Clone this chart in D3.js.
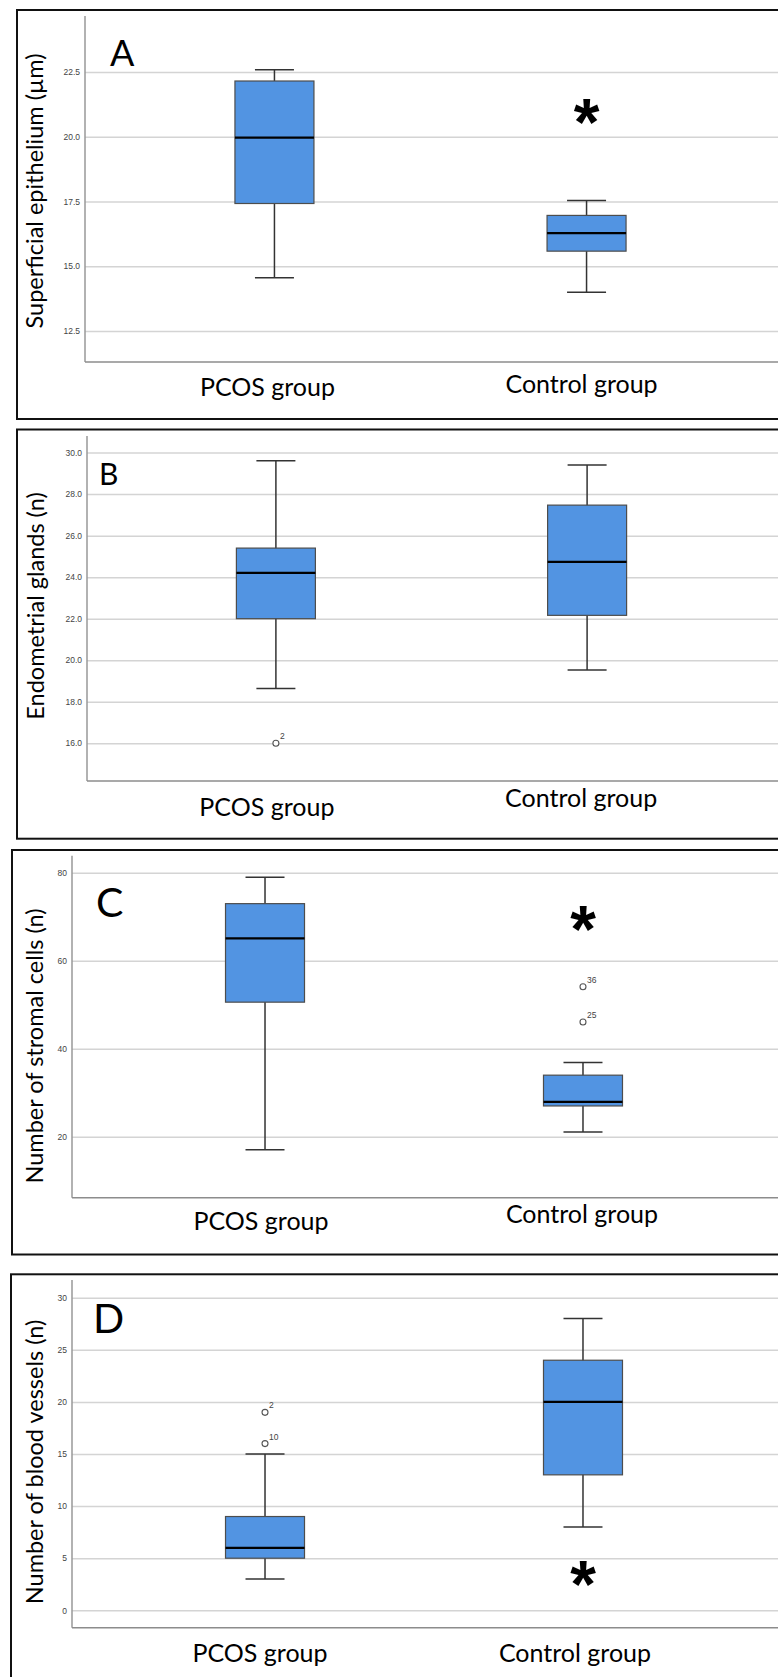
<!DOCTYPE html>
<html>
<head>
<meta charset="utf-8">
<script src="https://cdn.jsdelivr.net/npm/d3@7"></script>
<style>
  body { margin: 0; background: #fff; }
  svg { display: block; }
</style>
</head>
<body>
<div id="chart"></div>
<script>
/* global d3:false */

// ---- data ----
var groups = ["PCOS group", "Control group"];
var panelLetters = ["A", "B", "C", "D"];
var yTitles = [
  "Superficial epithelium (µm)",
  "Endometrial glands (n)",
  "Number of stromal cells (n)",
  "Number of blood vessels (n)"
];

// [lower whisker, Q1, median, Q3, upper whisker] per group
var epitheliumBoxes = [[14.55, 17.42, 19.96, 22.15, 22.58], [13.99, 15.58, 16.28, 16.96, 17.54]];
var glandBoxes      = [[18.64, 22.0, 24.21, 25.40, 29.61], [19.53, 22.16, 24.74, 27.47, 29.40]];
var stromalBoxes    = [[17.05, 50.6, 65.1, 73.0, 79.0], [21.06, 27.0, 27.95, 34.0, 36.9]];
var vesselBoxes     = [[3, 5, 6, 9, 15], [8, 13, 20, 24, 28]];

var epitheliumOutliers = [];
var glandOutliers   = [{ group: "PCOS group", value: 16.0, label: "2" }];
var stromalOutliers = [{ group: "Control group", value: 54.1, label: "36" },
                       { group: "Control group", value: 46.1, label: "25" }];
var vesselOutliers  = [{ group: "PCOS group", value: 19.0, label: "2" },
                       { group: "PCOS group", value: 16.0, label: "10" }];

var epitheliumTicks = [12.5, 15.0, 17.5, 20.0, 22.5];
var glandTicks   = [16, 18, 20, 22, 24, 26, 28, 30];
var stromalTicks = [20, 40, 60, 80];
var vesselTicks  = [0, 5, 10, 15, 20, 25, 30];

var yDomains = [[11.3, 24.66], [14.18, 30.8], [6.14, 83.9], [-1.67, 31.7]];
var tickFormats = [".1f", ".1f", "d", "d"];

// significance mark (*) placed on the control group, in data units
var starValues = [21.0, null, 69.7, 3.6];

// ---- layout (pixels) ----
var W = 778, H = 1677;
var layout = [
  { fx: 17, fy: 10, fb: 419, axisX: 85, top: 16, bottom: 362,
    titleX: 43, titleY: 191, letterX: 110, letterY: 66, letterSize: 36,
    labelDx: [-7, -5], labelY: [396, 393] },
  { fx: 17, fy: 429.5, fb: 838.7, axisX: 87, top: 436, bottom: 781,
    titleX: 44, titleY: 606, letterX: 99, letterY: 485, letterSize: 30,
    labelDx: [-9, -6], labelY: [816, 807] },
  { fx: 12, fy: 850, fb: 1254.5, axisX: 72, top: 855.7, bottom: 1197.7,
    titleX: 43, titleY: 1046, letterX: 96, letterY: 917, letterSize: 41,
    labelDx: [-4, -1], labelY: [1230, 1223] },
  { fx: 11, fy: 1274.3, fb: 1700, axisX: 72, top: 1280, bottom: 1627.7,
    titleX: 43, titleY: 1462, letterX: 93, letterY: 1333, letterSize: 41,
    labelDx: [-5, -8], labelY: [1662, 1662] }
];

var boxes = [epitheliumBoxes, glandBoxes, stromalBoxes, vesselBoxes];
var outliers = [epitheliumOutliers, glandOutliers, stromalOutliers, vesselOutliers];
var ticks = [epitheliumTicks, glandTicks, stromalTicks, vesselTicks];

var boxW = 79, capW = 39;
var boxFill = "#5294e2";

var svg = d3.select("#chart").append("svg")
  .attr("width", W)
  .attr("height", H);

svg.append("rect").attr("width", W).attr("height", H).attr("fill", "#fff");

layout.forEach(function(L, i) {
  var g = svg.append("g").attr("class", "panel-" + panelLetters[i]);

  // frame
  g.append("rect")
    .attr("x", L.fx).attr("y", L.fy)
    .attr("width", W + 20 - L.fx).attr("height", L.fb - L.fy)
    .attr("fill", "none")
    .attr("stroke", "#111")
    .attr("stroke-width", 2);

  var x = d3.scalePoint()
    .domain(groups)
    .range([L.axisX, W - 2])
    .padding(0.607);

  var y = d3.scaleLinear()
    .domain(yDomains[i])
    .range([L.bottom, L.top]);

  // gridlines + tick labels via axis
  var axis = d3.axisLeft(y)
    .tickValues(ticks[i])
    .tickFormat(d3.format(tickFormats[i]))
    .tickSize(-(W - L.axisX))
    .tickPadding(5);

  var ag = g.append("g")
    .attr("transform", "translate(" + L.axisX + ",0)")
    .call(axis);
  ag.select(".domain").remove();
  ag.selectAll(".tick line")
    .attr("stroke", "#d4d4d4")
    .attr("stroke-width", 1.5);
  ag.selectAll(".tick text")
    .attr("fill", "#444")
    .attr("font-family", "Liberation Sans, Arial, sans-serif")
    .attr("font-size", 8.5);

  // axis lines
  g.append("line")
    .attr("x1", L.axisX).attr("x2", L.axisX)
    .attr("y1", L.top).attr("y2", L.bottom)
    .attr("stroke", "#999").attr("stroke-width", 1.5);
  g.append("line")
    .attr("x1", L.axisX).attr("x2", W)
    .attr("y1", L.bottom).attr("y2", L.bottom)
    .attr("stroke", "#8c8c8c").attr("stroke-width", 1.5);

  // boxes
  var bg = g.selectAll(".box")
    .data(boxes[i])
    .enter().append("g")
    .attr("class", "box")
    .attr("transform", function(d, k) { return "translate(" + x(groups[k]) + ",0)"; });

  bg.append("line")
    .attr("x1", 0).attr("x2", 0)
    .attr("y1", function(d) { return y(d[0]); })
    .attr("y2", function(d) { return y(d[4]); })
    .attr("stroke", "#333").attr("stroke-width", 1.5);
  bg.selectAll(".cap")
    .data(function(d) { return [d[0], d[4]]; })
    .enter().append("line")
    .attr("class", "cap")
    .attr("x1", -capW / 2).attr("x2", capW / 2)
    .attr("y1", function(v) { return y(v); })
    .attr("y2", function(v) { return y(v); })
    .attr("stroke", "#333").attr("stroke-width", 1.5);
  bg.append("rect")
    .attr("x", -boxW / 2)
    .attr("width", boxW)
    .attr("y", function(d) { return y(d[3]); })
    .attr("height", function(d) { return y(d[1]) - y(d[3]); })
    .attr("fill", boxFill)
    .attr("stroke", "#4d4d4d").attr("stroke-width", 1.2);
  bg.append("line")
    .attr("x1", -boxW / 2).attr("x2", boxW / 2)
    .attr("y1", function(d) { return y(d[2]); })
    .attr("y2", function(d) { return y(d[2]); })
    .attr("stroke", "#000").attr("stroke-width", 2.2);

  // outliers
  var og = g.selectAll(".outlier")
    .data(outliers[i])
    .enter().append("g")
    .attr("class", "outlier")
    .attr("transform", function(d) { return "translate(" + x(d.group) + "," + y(d.value) + ")"; });
  og.append("circle")
    .attr("r", 3)
    .attr("fill", "#fff")
    .attr("stroke", "#555").attr("stroke-width", 1.1);
  og.append("text")
    .attr("x", 4).attr("y", -4)
    .attr("fill", "#444")
    .attr("font-family", "Liberation Sans, Arial, sans-serif")
    .attr("font-size", 8.5)
    .text(function(d) { return d.label; });

  // significance star
  if (starValues[i] !== null) {
    var starSize = 66;
    g.append("text")
      .attr("x", x("Control group"))
      .attr("y", y(starValues[i]) + 0.52 * starSize)
      .attr("text-anchor", "middle")
      .attr("font-family", "Liberation Sans, Arial, sans-serif")
      .attr("font-weight", "bold")
      .attr("font-size", starSize)
      .text("*");
  }

  // panel letter
  g.append("text")
    .attr("x", L.letterX).attr("y", L.letterY)
    .attr("font-family", "Lato, sans-serif")
    .attr("font-size", L.letterSize)
    .attr("fill", "#000")
    .text(panelLetters[i]);

  // y title
  g.append("text")
    .attr("transform", "translate(" + L.titleX + "," + L.titleY + ") rotate(-90)")
    .attr("text-anchor", "middle")
    .attr("font-family", "Lato, sans-serif")
    .attr("font-size", 23.5)
    .attr("fill", "#000")
    .text(yTitles[i]);

  // category labels
  g.selectAll(".cat")
    .data(groups)
    .enter().append("text")
    .attr("class", "cat")
    .attr("x", function(d, k) { return x(d) + L.labelDx[k]; })
    .attr("y", function(d, k) { return L.labelY[k]; })
    .attr("text-anchor", "middle")
    .attr("font-family", "Lato, sans-serif")
    .attr("font-size", 25)
    .attr("fill", "#000")
    .text(function(d) { return d; });
});
</script>
</body>
</html>
